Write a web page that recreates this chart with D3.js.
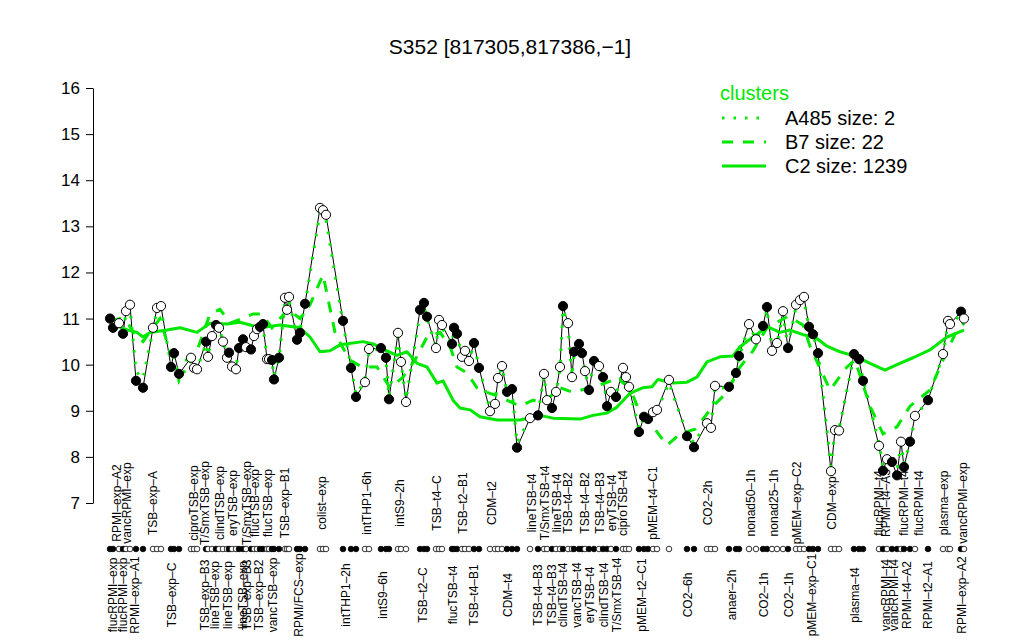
<!DOCTYPE html>
<html>
<head>
<meta charset="utf-8">
<script src="https://cdn.jsdelivr.net/npm/d3@7"></script>
<style>
  body { margin: 0; background: #fff; }
  svg text { font-family: 'Liberation Sans', Arial, Helvetica, sans-serif; }
</style>
</head>
<body>
<svg id="chart" width="1024" height="640"></svg>
<script>
/* global d3:true */

// Sample positions along the condition axis (replicates sit next to each other)
const pointPos = [
  3.75, 4.5, 6, 7, 7.75, 8.75, 10.25, 12, 14.5, 15.5,
  16.5, 19, 19.75, 21, 24, 24.75, 25.5, 27.75, 28.25, 29.25,
  30.25, 31, 32, 33, 33.5, 34.25, 35.25, 36, 37, 37.75,
  39, 39.75, 40.5, 41.25, 42, 43, 43.5, 44.25, 44.75, 46,
  47.5, 48, 48.5, 50.5, 51.25, 52.5, 56.25, 57, 57.75, 62,
  64, 65.25, 67.5, 68.5, 71.5, 72.75, 73.5, 75.75, 76.5, 77.75,
  81.25, 82.25, 83, 85.25, 86, 86.75, 89.25, 89.75, 90.5, 91.75,
  92.5, 93.5, 94.75, 96, 98.75, 100, 100.75, 101.75, 103, 104.25,
  105.5, 108.75, 110.75, 112.25, 113, 114.25, 115.25, 116.25, 117, 118.25,
  119.25, 119.75, 121, 121.75, 122.5, 123.5, 124.75, 126, 127, 128,
  129, 130.25, 132, 132.75, 133.5, 136, 137.25, 138.25, 139.5, 140.5,
  143.5, 148, 149.75, 153, 154, 155, 158.5, 160.25, 161, 163.5,
  165.25, 167, 168, 169.25, 170.5, 172, 173.25, 175.25, 176.25, 177.25,
  178.5, 179.5, 180.75, 184, 185, 186, 189.75, 191, 192, 196,
  197, 198, 199.25, 200.5, 201.5, 202.25, 203.75, 205, 208.25, 212,
  213.25, 213.75, 216.5, 217.25,
];

// S352 expression
const pointValue = [
  11.0, 10.8, 10.9, 10.67, 11.16, 11.3, 9.65, 9.5, 10.8, 11.23,
  11.27, 9.95, 10.25, 9.8, 10.15, 9.93, 9.9, 10.5, 10.17, 10.62,
  10.86, 10.8, 10.5, 10.15, 10.26, 9.96, 9.9, 10.36, 10.55, 10.38,
  10.33, 10.62, 10.77, 10.82, 10.88, 10.12, 10.12, 10.1, 9.68, 10.15,
  11.45, 11.19, 11.47, 10.54, 10.69, 11.32, 13.4, 13.35, 13.25, 10.95,
  9.93, 9.3, 9.62, 10.34, 10.36, 10.15, 9.25, 10.69, 10.06, 9.19,
  11.19, 11.34, 11.04, 10.36, 10.97, 10.86, 10.45, 10.8, 10.67, 10.17,
  10.3, 10.08, 10.47, 9.93, 8.99, 9.15, 9.71, 9.97, 9.41, 9.47,
  8.2, 8.84, 8.9, 9.8, 9.23, 9.06, 9.41, 9.95, 11.27, 10.9,
  9.73, 10.28, 10.45, 10.25, 9.86, 9.45, 10.08, 9.97, 9.73, 9.1,
  9.41, 9.3, 9.93, 9.73, 9.52, 8.54, 8.87, 8.82, 8.97, 9.02,
  9.67, 8.45, 8.21, 8.73, 8.63, 9.54, 9.52, 9.82, 10.19, 10.88,
  10.55, 10.84, 11.25, 10.3, 10.47, 11.16, 10.36, 11.3, 11.4, 11.47,
  10.82, 10.66, 10.25, 7.69, 8.58, 8.57, 10.23, 10.12, 9.65, 8.24,
  7.7, 7.95, 7.89, 7.6, 8.33, 7.78, 8.33, 8.89, 9.23, 10.23,
  10.95, 10.88, 11.15, 11.0,
];

// f = filled (black) marker, o = open marker
const pointFill = (
  'ffofooffoo' + 'offfooofoo' + 'fooofooffo' + 'fooffoofff' + 'ooofffooof' +
  'ffoofffooo' + 'fffooofffo' + 'ooffooooff' + 'fofoofoofo' + 'offfoffoff' +
  'ofooofffoo' + 'offooofffo' + 'offooofooo' + 'fffooofffo' + 'foffoffofo' +
  'oofo'
).split('');

// cluster A485 (size 2), sampled at the same positions
const a485Value = [
  10.95, 10.85, 10.9, 10.7, 11.1, 11.25, 9.85, 9.7, 10.75, 11.2,
  11.2, 10.0, 10.2, 9.65, 10.1, 9.95, 9.9, 10.45, 10.2, 10.6,
  10.8, 10.8, 10.5, 10.2, 10.25, 10.0, 9.95, 10.35, 10.5, 10.4,
  10.35, 10.6, 10.75, 10.8, 10.85, 10.15, 10.1, 10.05, 9.75, 10.15,
  11.35, 11.2, 11.4, 10.6, 10.75, 11.3, 13.3, 13.25, 13.15, 10.9,
  9.95, 9.35, 9.65, 10.3, 10.35, 10.1, 9.3, 10.6, 10.05, 9.25,
  11.1, 11.25, 11.0, 10.4, 10.9, 10.8, 10.45, 10.75, 10.65, 10.2,
  10.3, 10.1, 10.45, 9.95, 9.05, 9.2, 9.7, 9.95, 9.4, 9.45,
  8.3, 8.85, 8.95, 9.75, 9.25, 9.1, 9.4, 9.9, 11.2, 10.85,
  9.75, 10.25, 10.4, 10.2, 9.85, 9.5, 10.05, 9.95, 9.75, 9.15,
  9.4, 9.35, 9.9, 9.7, 9.5, 8.6, 8.85, 8.8, 8.95, 9.0,
  9.6, 8.5, 8.3, 8.75, 8.65, 9.5, 9.5, 9.8, 10.15, 10.85,
  10.55, 10.8, 11.2, 10.35, 10.45, 11.1, 10.4, 11.25, 11.35, 11.4,
  10.8, 10.65, 10.3, 7.8, 8.6, 8.6, 10.2, 10.1, 9.7, 8.3,
  7.8, 8.0, 7.95, 7.7, 8.3, 7.85, 8.3, 8.85, 9.25, 10.2,
  10.9, 10.85, 11.1, 10.95,
];

// cluster B7 (size 22)
const b7Pos = [
  3.75, 6.25, 8.25, 10.25, 12, 14.5, 16.25, 19, 21, 24,
  25.5, 28.75, 31.25, 33.75, 36.75, 39.5, 41.75, 44.25, 46.25, 48.25,
  51.25, 53.75, 57, 60, 61.75, 63.75, 66.75, 70.5, 73.75, 77,
  80, 83, 86.25, 88.75, 90.5, 93, 95.5, 98, 101.25, 106.25,
  109.5, 112, 116.25, 119.5, 123.75, 127.5, 130.5, 133.75, 136.25, 140,
  143, 146.25, 150, 154.5, 158, 161.25, 164.5, 168, 173.25, 177,
  178.75, 183.75, 188, 190, 193.75, 197, 200.5, 203.75, 208.75, 212,
  215.5, 217.25,
];
const b7Value = [
  10.95, 11.0, 10.9, 10.6, 10.5, 10.8, 11.0, 10.2, 10.1, 10.1,
  10.3, 11.1, 11.2, 10.9, 11.0, 11.1, 11.1, 10.8, 11.0, 11.2,
  11.0, 11.3, 11.95, 10.7, 10.4, 10.1, 9.95, 9.95, 9.5, 9.73,
  10.1, 10.6, 10.7, 10.4, 9.95, 9.82, 9.5, 9.4, 9.3, 9.1,
  9.23, 9.17, 9.5, 9.4, 9.5, 9.6, 9.7, 9.5, 8.95, 8.6,
  8.25, 8.5, 8.6, 9.1, 9.4, 9.95, 10.3, 10.8, 11.05, 10.86,
  10.4, 9.45, 9.95, 10.1, 9.1, 8.5, 8.65, 9.1, 9.45, 10.1,
  10.75, 10.9,
];

// cluster C2 (size 1239)
const c2Pos = [
  3.75, 8.25, 10.5, 12, 13.75, 18, 21.25, 25.5, 28.75, 33,
  36.25, 41.25, 46.25, 51.25, 53.75, 56.25, 58.75, 61.25, 67, 69.5,
  73, 75.5, 78, 80.5, 83, 85.5, 87, 89.5, 91.25, 93.75,
  96.25, 100.5, 106.25, 111.25, 114.5, 121.25, 124.5, 128, 130.5, 133.75,
  137, 139.25, 140.75, 144.5, 148, 150.5, 153, 156.25, 159.5, 161.25,
  164.5, 168, 168.75, 171.25, 173.75, 177, 180, 183, 186.25, 190.5,
  193.75, 197.5, 200.5, 204.5, 208.75, 213, 217.25,
];
const c2Value = [
  10.9, 10.75, 10.7, 10.6, 10.7, 10.75, 10.8, 10.7, 10.9, 10.88,
  10.92, 10.8, 10.86, 10.8, 10.6, 10.28, 10.3, 10.43, 10.5, 10.45,
  10.3, 10.2, 10.28, 10.03, 9.95, 9.6, 9.65, 9.23, 9.06, 9.02,
  8.87, 8.8, 8.8, 8.9, 8.84, 8.82, 8.9, 8.95, 9.08, 9.38,
  9.5, 9.52, 9.68, 9.6, 9.62, 9.73, 10.06, 10.17, 10.19, 10.39,
  10.6, 10.82, 10.8, 10.7, 10.75, 10.65, 10.6, 10.4, 10.28, 10.17,
  10.03, 9.88, 10.0, 10.15, 10.32, 10.6, 10.75,
];

// condition labels written above and below the marker strip
const topLabels = [
  'RPMI\u2013exp\u2013A2', 'vancRPMI\u2013exp', 'TSB\u2013exp\u2013A', 'ciproTSB\u2013exp',
  'T/SmxTSB\u2013exp', 'clindTSB\u2013exp', 'eryTSB\u2013exp', 'T/SmxTSB\u2013exp',
  'flucTSB\u2013exp', 'flucTSB\u2013exp', 'TSB\u2013exp\u2013B1', 'colist\u2013exp',
  'intTHP1\u20136h', 'intS9\u20132h', 'TSB\u2013t4\u2013C', 'TSB\u2013t2\u2013B1', 'CDM\u2013t2',
  'lineTSB\u2013t4', 'T/SmxTSB\u2013t4', 'lineTSB\u2013t4', 'TSB\u2013t4\u2013B2', 'TSB\u2013t4\u2013B2',
  'TSB\u2013t4\u2013B3', 'eryTSB\u2013t4', 'ciproTSB\u2013t4', 'pMEM\u2013t4\u2013C1', 'CO2\u20132h',
  'nonad50\u20131h', 'nonad25\u20131h', 'pMEM\u2013exp\u2013C2', 'CDM\u2013exp', 'flucRPMI\u2013t4',
  'RPMI\u2013t4\u2013A3', 'flucRPMI\u2013t4', 'flucRPMI\u2013t4', 'plasma\u2013exp', 'vancRPMI\u2013exp',
];
const topLabelPos = [
  5.25, 7.75, 14.25, 24.5, 27.25, 31, 34.25, 37.75, 39.75, 43,
  47.25, 56.5, 67.75, 76, 85.25, 91.75, 99, 109, 112.25, 115.25,
  118, 122.25, 126, 129, 131.75, 139.25, 153, 163.75, 169.5, 175.25,
  184, 195.75, 197.5, 202, 205.75, 212, 216.75,
];
const bottomLabels = [
  'flucRPMI\u2013exp', 'flucRPMI\u2013exp', 'RPMI\u2013exp\u2013A1', 'TSB\u2013exp\u2013C',
  'TSB\u2013exp\u2013B3', 'lineTSB\u2013exp', 'lineTSB\u2013exp', 'lineTSB\u2013exp',
  'TSB\u2013exp\u2013B3', 'TSB\u2013exp\u2013B2', 'vancTSB\u2013exp', 'RPMI/FCS\u2013exp',
  'intTHP1\u20132h', 'intS9\u20136h', 'TSB\u2013t2\u2013C', 'flucTSB\u2013t4', 'TSB\u2013t4\u2013B1',
  'CDM\u2013t4', 'TSB\u2013t4\u2013B3', 'TSB\u2013t4\u2013B3', 'clindTSB\u2013t4', 'vancTSB\u2013t4',
  'eryTSB\u2013t4', 'clindTSB\u2013t4', 'T/SmxTSB\u2013t4', 'pMEM\u2013t2\u2013C1', 'CO2\u20136h',
  'anaer\u20132h', 'CO2\u20131h', 'CO2\u20131h', 'pMEM\u2013exp\u2013C1', 'plasma\u2013t4',
  'vancRPMI\u2013t4', 'vancRPMI\u2013t4', 'RPMI\u2013t4\u2013A2', 'RPMI\u2013t2\u2013A1', 'RPMI\u2013exp\u2013A2',
];
const bottomLabelPos = [
  4.25, 6.75, 9.75, 19, 27.25, 29.75, 33, 36.75, 37.75, 40.75,
  44.25, 50.75, 62.5, 71.75, 81.75, 89.25, 94.5, 103, 110.5, 114,
  116.75, 120.25, 123.5, 127, 130.25, 136.5, 148, 159, 167, 173.25,
  179, 189.75, 197.5, 199.5, 202.75, 208, 216.5,
];

const yTicks = [7, 8, 9, 10, 11, 12, 13, 14, 15, 16];

const legendItems = ['A485 size: 2', 'B7 size: 22', 'C2 size: 1239'];

const config = {
  width: 1024,
  height: 640,
  green: '#00e800',
  stripY: 549,
  topLabelY: 503,
  bottomLabelY: 595,
};

const svg = d3.select('#chart');

const x = d3.scaleLinear().domain([0, 220]).range([95, 975]);
const y = d3.scaleLinear().domain([7, 16]).range([503, 88]);

const points = pointPos.map((p, i) => ({
  pos: p, value: pointValue[i], filled: pointFill[i] === 'f', a485: a485Value[i],
}));

// title
svg.append('text')
  .attr('x', 510)
  .attr('y', 54)
  .attr('text-anchor', 'middle')
  .style('font-size', '21px')
  .text('S352 [817305,817386,\u22121]');

// y axis
const yAxis = svg.append('g')
  .attr('transform', 'translate(93,0)')
  .call(d3.axisLeft(y).tickValues(yTicks).tickSize(7).tickSizeOuter(0).tickPadding(6));
yAxis.selectAll('text').style('font-size', '17px').attr('fill', '#000');
yAxis.selectAll('line, path').attr('stroke', '#000');

const line = d3.line()
  .x((d) => x(d[0]))
  .y((d) => y(d[1]));

// gene profile
svg.append('path')
  .attr('d', line(points.map((d) => [d.pos, d.value])))
  .attr('fill', 'none')
  .attr('stroke', '#000')
  .attr('stroke-width', 1);

// cluster means
svg.append('path')
  .attr('d', line(c2Pos.map((p, i) => [p, c2Value[i]])))
  .attr('fill', 'none')
  .attr('stroke', config.green)
  .attr('stroke-width', 3)
  .attr('stroke-linejoin', 'round');

svg.append('path')
  .attr('d', line(b7Pos.map((p, i) => [p, b7Value[i]])))
  .attr('fill', 'none')
  .attr('stroke', config.green)
  .attr('stroke-width', 3)
  .attr('stroke-dasharray', '11,10');

svg.append('path')
  .attr('d', line(points.map((d) => [d.pos, d.a485])))
  .attr('fill', 'none')
  .attr('stroke', config.green)
  .attr('stroke-width', 3)
  .attr('stroke-dasharray', '2.5,9');

// markers
svg.append('g')
  .selectAll('circle')
  .data(points)
  .enter()
  .append('circle')
  .attr('cx', (d) => x(d.pos))
  .attr('cy', (d) => y(d.value))
  .attr('r', 4.6)
  .attr('fill', (d) => (d.filled ? '#000' : '#fff'))
  .attr('stroke', '#000')
  .attr('stroke-width', 1);

// condition strip
svg.append('g')
  .selectAll('circle')
  .data(points)
  .enter()
  .append('circle')
  .attr('cx', (d) => x(d.pos))
  .attr('cy', config.stripY)
  .attr('r', 2.8)
  .attr('fill', (d) => (d.filled ? '#000' : '#fff'))
  .attr('stroke', '#000')
  .attr('stroke-width', 0.8);

function drawLabels(names, pos, cy) {
  svg.append('g')
    .selectAll('text')
    .data(names)
    .enter()
    .append('text')
    .attr('transform', (d, i) => `translate(${x(pos[i]) + 4.5},${cy}) rotate(-90)`)
    .attr('text-anchor', 'middle')
    .style('font-size', '12px')
    .text((d) => d);
}

drawLabels(topLabels, topLabelPos, config.topLabelY);
drawLabels(bottomLabels, bottomLabelPos, config.bottomLabelY);

// legend
const legend = svg.append('g').attr('transform', 'translate(720,0)');
legend.append('text')
  .attr('x', 0)
  .attr('y', 100)
  .attr('fill', config.green)
  .style('font-size', '20px')
  .text('clusters');

const dashes = ['2.5,9', '11,10', null];
legendItems.forEach((label, i) => {
  const ly = 118 + i * 24;
  legend.append('line')
    .attr('x1', 2)
    .attr('x2', 46)
    .attr('y1', ly)
    .attr('y2', ly)
    .attr('stroke', config.green)
    .attr('stroke-width', 3)
    .attr('stroke-dasharray', dashes[i]);
  legend.append('text')
    .attr('x', 65)
    .attr('y', ly + 7)
    .style('font-size', '20px')
    .text(label);
});
</script>
</body>
</html>
